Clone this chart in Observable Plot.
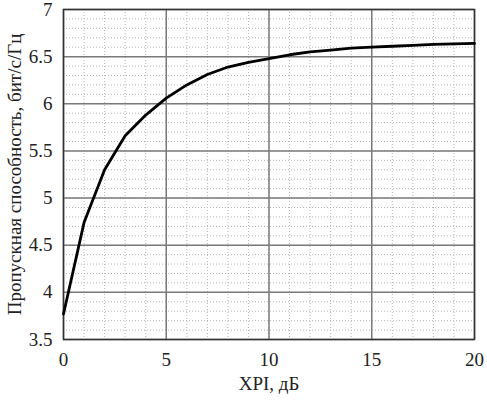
<!DOCTYPE html>
<html>
<head>
<meta charset="utf-8">
<script src="https://cdn.jsdelivr.net/npm/d3@7"></script>
<script src="https://cdn.jsdelivr.net/npm/@observablehq/plot@0.6"></script>
<style>
  html, body { margin: 0; padding: 0; background: #fff; }
  #chart svg, #chart svg text { font-family: "Liberation Serif", "DejaVu Serif", serif !important; }
</style>
</head>
<body>
<div id="chart"></div>
<script>
const xpi = [0, 1, 2, 3, 4, 5, 6, 7, 8, 9, 10, 11, 12, 13, 14, 15, 16, 17, 18, 19, 20];
const capacity = [3.77, 4.74, 5.30, 5.66, 5.88, 6.06, 6.20, 6.31, 6.39, 6.44, 6.48, 6.52, 6.55, 6.57, 6.59, 6.60, 6.61, 6.62, 6.63, 6.635, 6.64];
const xTicks = [0, 5, 10, 15, 20];
const yTicks = [3.5, 4, 4.5, 5, 5.5, 6, 6.5, 7];
const xMinor = d3.range(0, 21, 1);
const yMinor = d3.range(35, 71, 1).map(v => v / 10);
const xLabel = "XPI, дБ";
const yLabel = "Пропускная способность, бит/с/Гц";

const data = xpi.map((x, i) => ({x, y: capacity[i]}));

const chart = Plot.plot({
  width: 487,
  height: 401,
  marginLeft: 63,
  marginRight: 13,
  marginTop: 9,
  marginBottom: 62,
  style: {fontSize: "19px", color: "#222", background: "#fff"},
  x: {domain: [0, 20]},
  y: {domain: [3.5, 7]},
  marks: [
    Plot.ruleX(xMinor, {stroke: "#b5b5b5", strokeWidth: 1, strokeDasharray: "1,2"}),
    Plot.ruleY(yMinor, {stroke: "#b5b5b5", strokeWidth: 1, strokeDasharray: "1,2"}),
    Plot.ruleX(xTicks, {stroke: "#7a7a7a", strokeWidth: 1.5}),
    Plot.ruleY(yTicks, {stroke: "#7a7a7a", strokeWidth: 1.5}),
    Plot.frame({stroke: "#333", strokeWidth: 1.5}),
    Plot.axisX({ticks: xTicks, tickSize: 0, tickPadding: 13, label: null, tickFormat: d => String(d)}),
    Plot.axisY({ticks: yTicks, tickSize: 0, tickPadding: 11, label: null, tickFormat: d => String(d)}),
    Plot.line(data, {x: "x", y: "y", stroke: "#000", strokeWidth: 2.8, strokeLinejoin: "round"}),
    Plot.text([xLabel], {frameAnchor: "bottom", dy: 50, fontSize: 19, fill: "#222"}),
    Plot.text([yLabel], {frameAnchor: "left", textAnchor: "middle", dx: -49, rotate: -90, fontSize: 19, fill: "#222"})
  ]
});
document.getElementById("chart").appendChild(chart);
</script>
</body>
</html>
